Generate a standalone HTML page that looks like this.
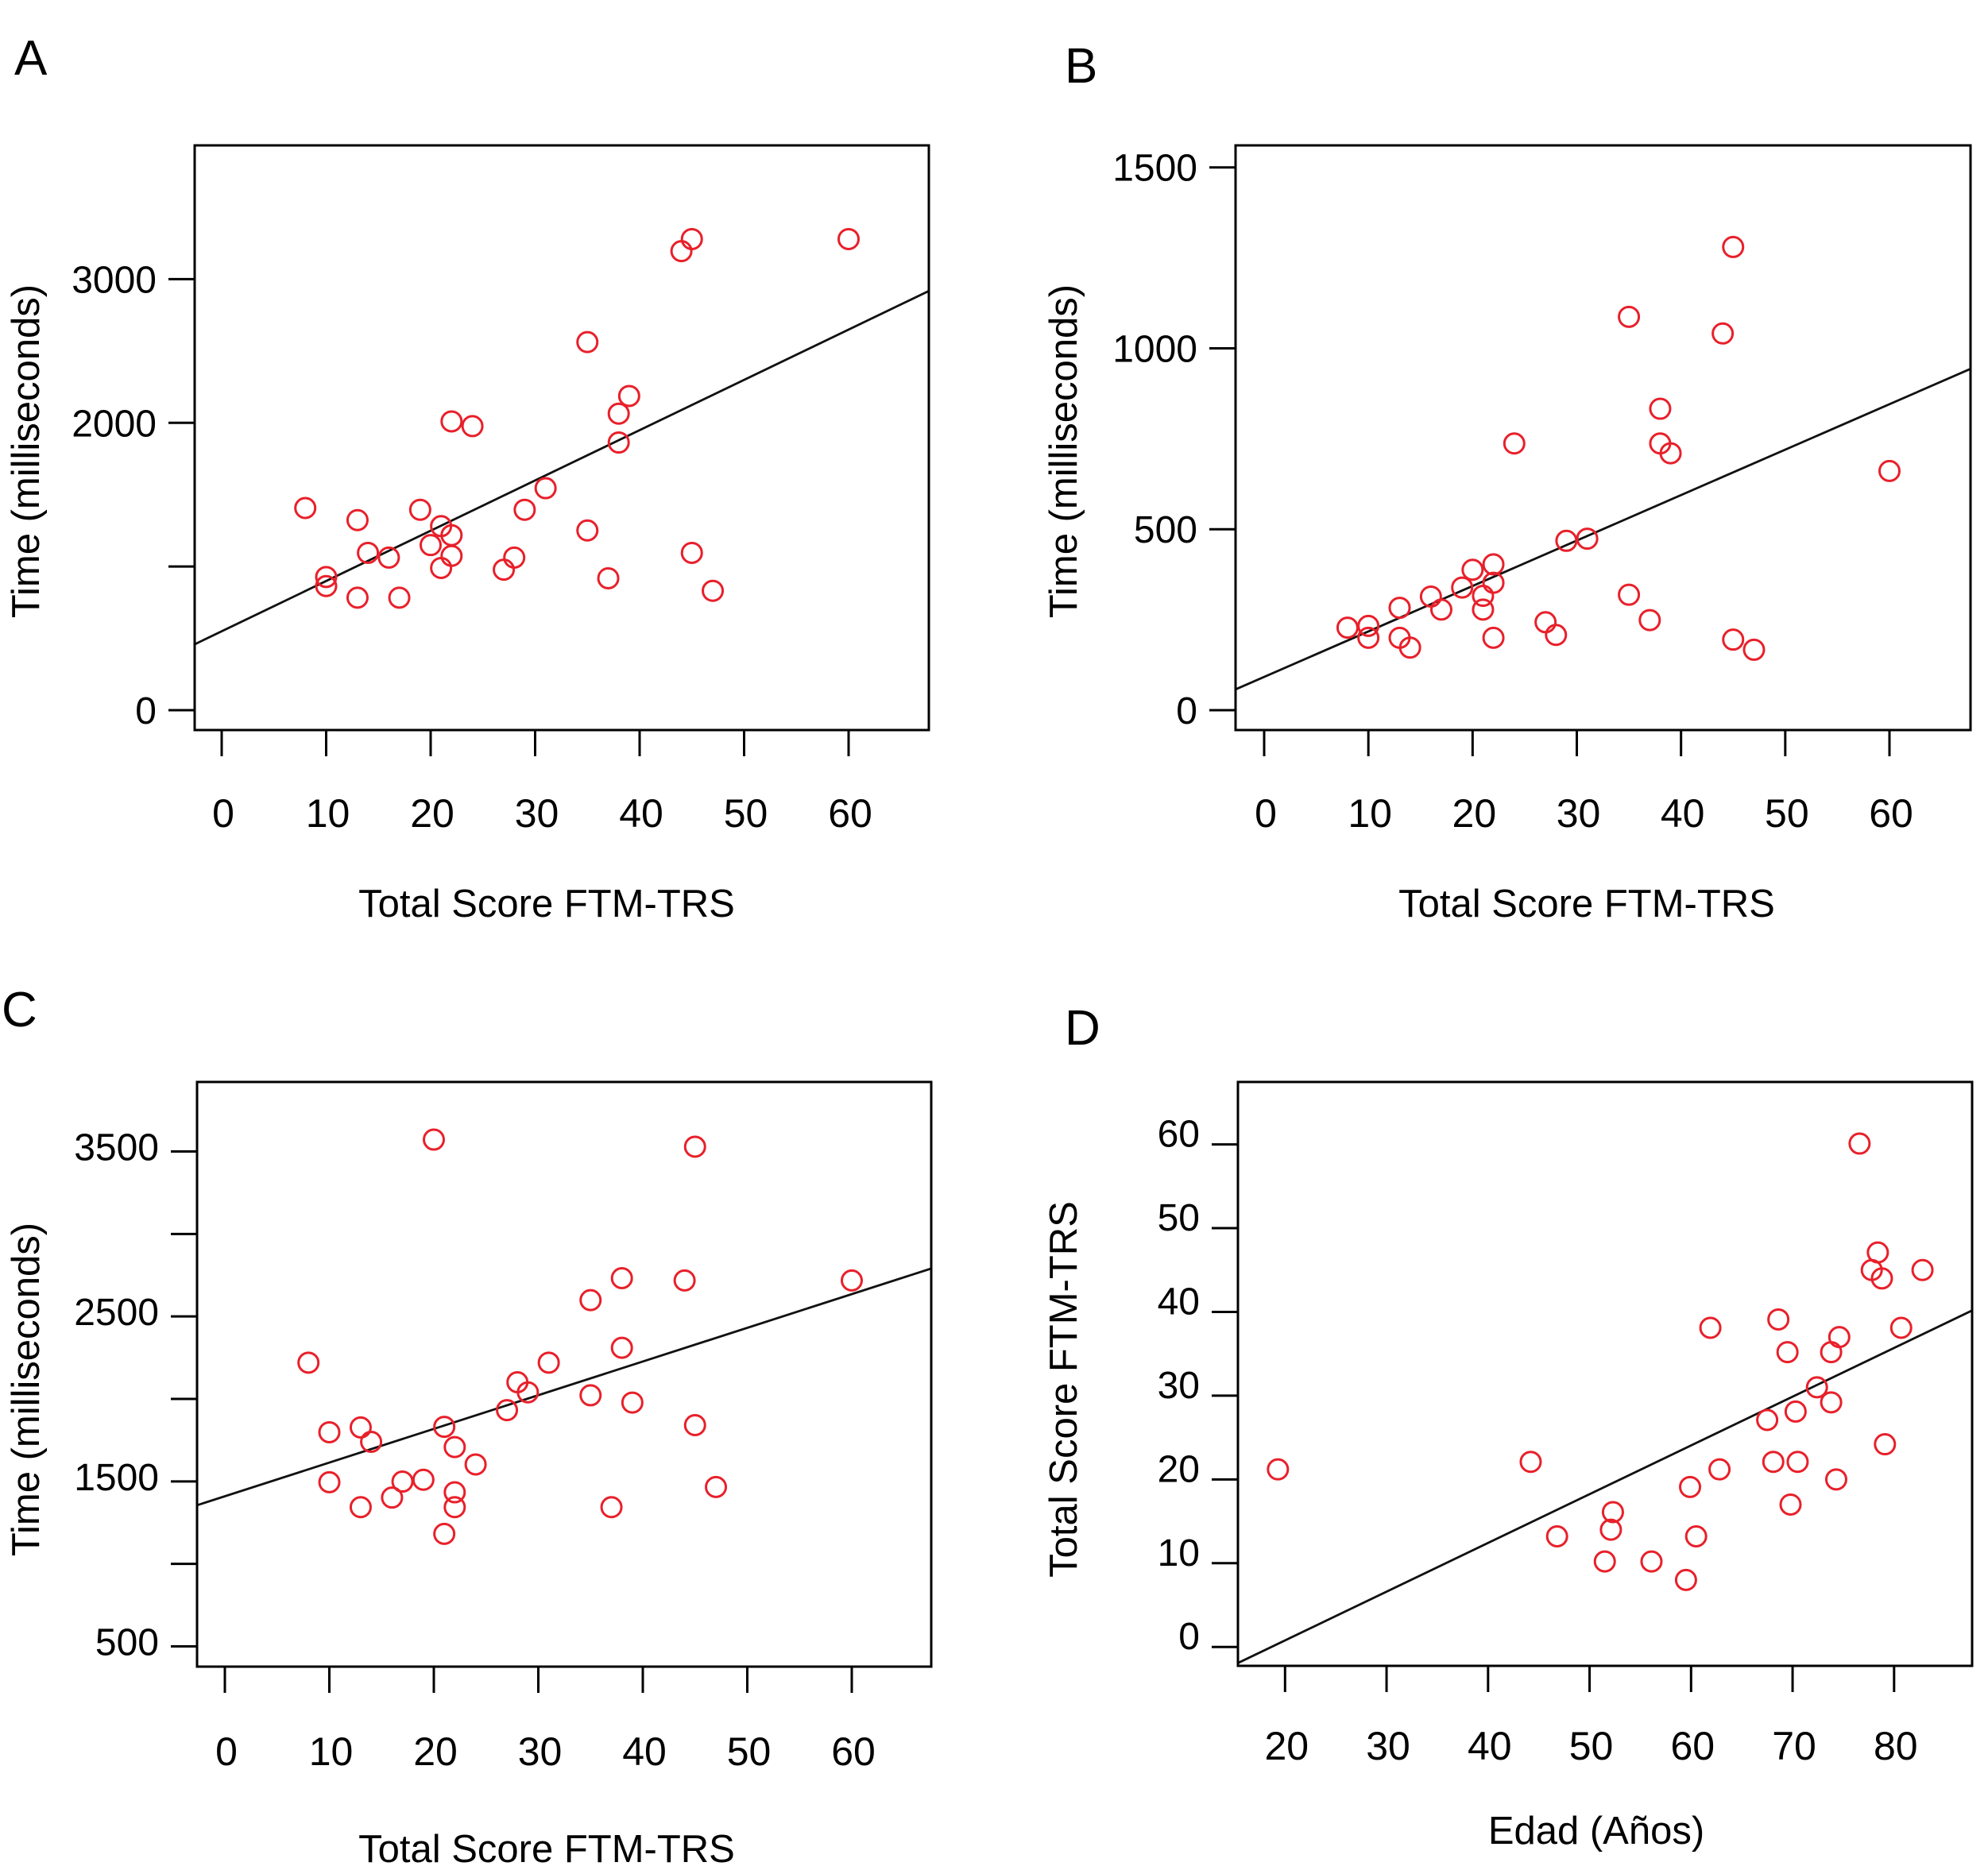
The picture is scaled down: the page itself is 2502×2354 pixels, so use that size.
<!DOCTYPE html>
<html><head><meta charset="utf-8"><style>
html,body{margin:0;padding:0;background:#fff}
svg{display:block;font-family:"Liberation Sans",Arial,sans-serif}
</style></head><body>
<svg id="fig" width="2502" height="2354" viewBox="0 0 2502 2354" xmlns="http://www.w3.org/2000/svg">
<rect width="2502" height="2354" fill="#fff"/>
</svg>
<script>
// ---- Panel A data ----
const aX = [8,13,13,14,10,10,16,17,19,21,22,20,22,21,22,24,27,28,29,31,35,35,37,38,38,39,44,45,45,47,60];
const aY = [1407,1323,783,1095,927,864,1062,783,1395,1281,1218,1149,1074,990,2010,1977,978,1062,1395,1545,2562,1251,918,2064,1863,2187,3195,3279,1095,831,3279];
const aFit = [549, 35];
const aYTicks = [0,1000,2000,3000];
const aYLabels = ["0","","2000","3000"];
// ---- Panel B data ----
const bX = [8,10,10,13,13,14,16,17,19,20,21,21,22,22,22,24,27,28,29,31,35,35,37,38,38,39,44,45,45,47,60];
const bY = [228,233,200,283,200,173,314,278,339,388,316,278,403,352,200,737,243,208,468,474,1087,319,249,833,737,710,1041,1280,195,167,661];
const bFit = [92, 12.56];
const bYTicks = [0,500,1000,1500];
const bYLabels = ["0","500","1000","1500"];
// ---- Panel C data ----
const cX = [20,45,8,10,10,13,13,14,16,17,19,21,22,22,22,21,24,27,28,29,31,35,35,37,38,38,39,44,45,47,60];
const cY = [3572,3529,2220,1798,1495,1827,1344,1740,1402,1499,1510,1831,1708,1434,1344,1182,1603,1932,2101,2040,2220,2599,2022,1344,2732,2310,1978,2718,1841,1466,2718];
const cFit = [1410, 20.42];
const cYTicks = [500,1000,1500,2000,2500,3000,3500];
const cYLabels = ["500","","1500","","2500","","3500"];
// ---- Panel D data ----
const dX = [19.3,44.2,46.8,51.5,52.3,52.1,56.1,59.5,59.9,60.5,61.9,62.8,67.5,68.1,68.6,69.5,69.8,70.3,70.5,72.4,73.8,73.8,74.3,74.6,76.6,77.8,78.4,78.8,79.1,80.7,82.8];
const dY = [21.2,22.1,13.2,10.2,16.1,14.0,10.2,8.0,19.1,13.2,38.1,21.2,27.1,22.1,39.1,35.2,17.0,28.1,22.1,31.0,29.2,35.2,20.0,37.0,60.1,45.0,47.1,44.0,24.2,38.1,45.0];
const dFit = [-10.86, 0.582];
const dYTicks = [0,10,20,30,40,50,60];
const dYLabels = ["0","10","20","30","40","50","60"];
const xTicksScore = [0,10,20,30,40,50,60];
const xTicksAge = [20,30,40,50,60,70,80];

const NS = "http://www.w3.org/2000/svg";
const svg = document.getElementById('fig');
function mk(tag, attrs, parent, text){
  const e = document.createElementNS(NS, tag);
  for (const k in attrs) e.setAttribute(k, attrs[k]);
  if (text !== undefined) e.textContent = text;
  (parent||svg).appendChild(e);
  return e;
}
function lin(d0,d1,p0,p1){ return v => p0 + (v-d0)*(p1-p0)/(d1-d0); }

function panel(id, g, xs, ys, fit, xTicks, yTicks, yLabels, xTitle, yTitle, letter){
  const grp = mk('g', {});
  
  
  const sx = lin(g.xd[0], g.xd[1], g.xp[0], g.xp[1]);
  const sy = lin(g.yd[0], g.yd[1], g.yp[0], g.yp[1]);
  const L=g.box[0], R=g.box[1], T=g.box[2], B=g.box[3];
  const lt = mk('text', {x:g.letter[0], y:g.letter[1], 'font-size':62, fill:'#000'}, grp, letter);
  
  
  const cp = mk('clipPath', {id:'clip'+id}, grp);
  mk('rect', {x:L, y:T, width:R-L, height:B-T}, cp);
  const x0 = (L - g.xp[0])*(g.xd[1]-g.xd[0])/(g.xp[1]-g.xp[0]) + g.xd[0];
  const x1 = (R - g.xp[0])*(g.xd[1]-g.xd[0])/(g.xp[1]-g.xp[0]) + g.xd[0];
  const ln = mk('line', {x1:sx(x0), y1:sy(fit[0]+fit[1]*x0), x2:sx(x1), y2:sy(fit[0]+fit[1]*x1), stroke:'#111', 'stroke-width':2.8, 'clip-path':'url(#clip'+id+')'}, grp);
  
  
  for (let i=0;i<xs.length;i++){
    const c = mk('circle', {cx:sx(xs[i]), cy:sy(ys[i]), r:12.5, fill:'none', stroke:'#e8202a', 'stroke-width':3}, grp);
    
    
  }
  const bx = mk('rect', {x:L, y:T, width:R-L, height:B-T, fill:'none', stroke:'#000', 'stroke-width':3}, grp);
  
  
  xTicks.forEach(v => {
    const tk = mk('line', {x1:sx(v), y1:B, x2:sx(v), y2:B+33, stroke:'#000', 'stroke-width':3}, grp);
    
    
    const tl = mk('text', {x:sx(v)+2, y:g.xlabY, 'font-size':50, 'text-anchor':'middle', fill:'#000'}, grp, String(v));
    
    
  });
  yTicks.forEach((v,i) => {
    const tk = mk('line', {x1:L-33, y1:sy(v), x2:L, y2:sy(v), stroke:'#000', 'stroke-width':3}, grp);
    
    
    if (yLabels[i]) {
      const tl = mk('text', {x:L-48, y:sy(v)+17+g.ylabDy, 'font-size':48, 'text-anchor':'end', fill:'#000'}, grp, yLabels[i]);
      
      
    }
  });
  const xt = mk('text', {x:g.xTitle[0], y:g.xTitle[1], 'font-size':49, 'text-anchor':'middle', fill:'#000'}, grp, xTitle);
  
  
  const yt = mk('text', {x:0, y:0, 'font-size':49, 'text-anchor':'middle', fill:'#000', transform:'translate('+(g.yTitle[0]+17)+','+g.yTitle[1]+') rotate(-90)'}, grp, yTitle);
  
  
}

panel('a', {box:[245,1169,183,919], xd:[0,60], xp:[279,1068], yd:[0,3000], yp:[894,351.4], letter:[18,94], xlabY:1041, ylabDy:0, xTitle:[688,1154], yTitle:[32,568]},
  aX, aY, aFit, xTicksScore, aYTicks, aYLabels, 'Total Score FTM-TRS', 'Time (milliseconds)', 'A');
panel('b', {box:[1555,2480,183,919], xd:[0,60], xp:[1591,2378], yd:[0,1500], yp:[894,210.7], letter:[1340,104], xlabY:1041, ylabDy:0, xTitle:[1997,1154], yTitle:[1338,568]},
  bX, bY, bFit, xTicksScore, bYTicks, bYLabels, 'Total Score FTM-TRS', 'Time (milliseconds)', 'B');
panel('c', {box:[248,1172,1362,2098], xd:[0,60], xp:[283,1072], yd:[500,3500], yp:[2072.5,1449.5], letter:[2,1292], xlabY:2222, ylabDy:-6, xTitle:[688,2344], yTitle:[32,1749]},
  cX, cY, cFit, xTicksScore, cYTicks, cYLabels, 'Total Score FTM-TRS', 'Time (milliseconds)', 'C');
panel('d', {box:[1558,2482,1362,2097], xd:[20,80], xp:[1617.3,2383.8], yd:[0,60], yp:[2073.2,1440.6], letter:[1340,1315], xlabY:2215, ylabDy:-14, xTitle:[2009,2321], yTitle:[1338,1749]},
  dX, dY, dFit, xTicksAge, dYTicks, dYLabels, 'Edad (Años)', 'Total Score FTM-TRS', 'D');
</script>
</body></html>
